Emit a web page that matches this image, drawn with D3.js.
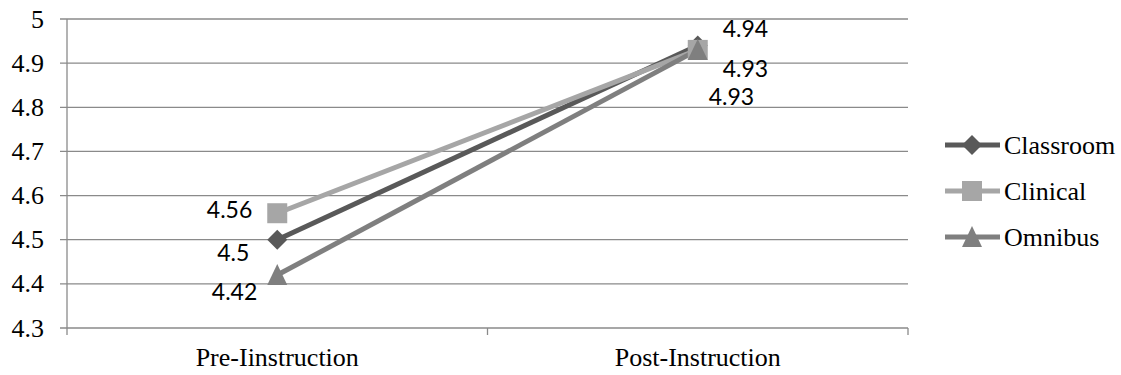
<!DOCTYPE html>
<html><head><meta charset="utf-8">
<script src="https://cdn.jsdelivr.net/npm/d3@7"></script>
<style>body{margin:0;background:#fff}</style>
</head><body>
<svg id="c" width="1121" height="375"></svg>
<script>
const categories = ["Pre-Iinstruction", "Post-Instruction"];
const seriesNames = ["Classroom", "Clinical", "Omnibus"];
const classroom = [4.5, 4.94];
const clinical = [4.56, 4.93];
const omnibus = [4.42, 4.93];
const yTicks = [4.3, 4.4, 4.5, 4.6, 4.7, 4.8, 4.9, 5];

(function () {
const colors = ["#595959", "#a6a6a6", "#7f7f7f"];
const half = 10;
const shapes = [
  `M0,${-half}L${half},0L0,${half}L${-half},0Z`,
  `M${-half},${-half}H${half}V${half}H${-half}Z`,
  `M0,${-half - 1}L${half},${half}L${-half},${half}Z`
];
const seriesData = [classroom, clinical, omnibus];
// label offsets [dx, dy, anchor] per series per point
const labelPos = [
  [[-28, 13, "end"], [25, -17, "start"]],
  [[-25, -3, "end"], [25, 19, "start"]],
  [[-20, 17, "end"], [11, 47, "start"]]
];
const serif = "'Liberation Serif', 'Times New Roman', serif";

const svg = d3.select("#c");
const pL = 67, pR = 908, pT = 19, pB = 328;
const x = d3.scaleBand().domain(categories).range([pL, pR]);
const y = d3.scaleLinear().domain([4.3, 5]).range([pB, pT]);
const cx = c => x(c) + x.bandwidth() / 2;
const grid = "#8a8a8a";

svg.append("g").selectAll("line").data(yTicks).join("line")
  .attr("x1", pL - 7).attr("x2", pR)
  .attr("y1", d => y(d)).attr("y2", d => y(d))
  .attr("stroke", grid).attr("stroke-width", 1.3);

svg.append("line").attr("x1", pL).attr("x2", pL).attr("y1", pT).attr("y2", pB + 7)
  .attr("stroke", grid).attr("stroke-width", 1.3);
const bnd = [pL + x.bandwidth(), pR];
svg.append("g").selectAll("line").data(bnd).join("line")
  .attr("x1", d => d).attr("x2", d => d).attr("y1", pB).attr("y2", pB + 7)
  .attr("stroke", grid).attr("stroke-width", 1.3);

svg.append("g").selectAll("text").data(yTicks).join("text")
  .attr("x", 44).attr("y", d => y(d)).attr("dy", "0.33em")
  .attr("text-anchor", "end")
  .attr("font-family", serif).attr("font-size", 26)
  .text(d => d);

svg.append("g").selectAll("text").data(categories).join("text")
  .attr("x", d => cx(d)).attr("y", 366)
  .attr("text-anchor", "middle")
  .attr("font-family", serif).attr("font-size", 26)
  .text(d => d);

const line = d3.line().x((d, i) => cx(categories[i])).y(d => y(d));

seriesData.forEach((s, k) => {
  svg.append("path").datum(s).attr("d", line).attr("fill", "none")
    .attr("stroke", colors[k]).attr("stroke-width", 5);
});
seriesData.forEach((s, k) => {
  svg.append("g").selectAll("path").data(s).join("path")
    .attr("transform", (d, i) => `translate(${cx(categories[i])},${y(d)})`)
    .attr("d", shapes[k])
    .attr("fill", colors[k]);
});
seriesData.forEach((s, k) => {
  svg.append("g").selectAll("text").data(s).join("text")
    .attr("x", (d, i) => cx(categories[i]) + labelPos[k][i][0])
    .attr("y", (d, i) => y(d) + labelPos[k][i][1]).attr("dy", "0.35em")
    .attr("text-anchor", (d, i) => labelPos[k][i][2])
    .attr("font-family", "Lato, 'Open Sans', sans-serif").attr("font-size", 23)
    .text(d => d);
});

const lg = svg.append("g");
seriesNames.forEach((n, k) => {
  const ly = 145 + k * 46;
  lg.append("line").attr("x1", 945).attr("x2", 1000).attr("y1", ly).attr("y2", ly)
    .attr("stroke", colors[k]).attr("stroke-width", 5);
  lg.append("path").attr("transform", `translate(972,${ly})`)
    .attr("d", shapes[k]).attr("fill", colors[k]);
  lg.append("text").attr("x", 1004).attr("y", ly).attr("dy", "0.33em")
    .attr("font-family", serif).attr("font-size", 26).text(n);
});
})();
</script>
</body></html>
